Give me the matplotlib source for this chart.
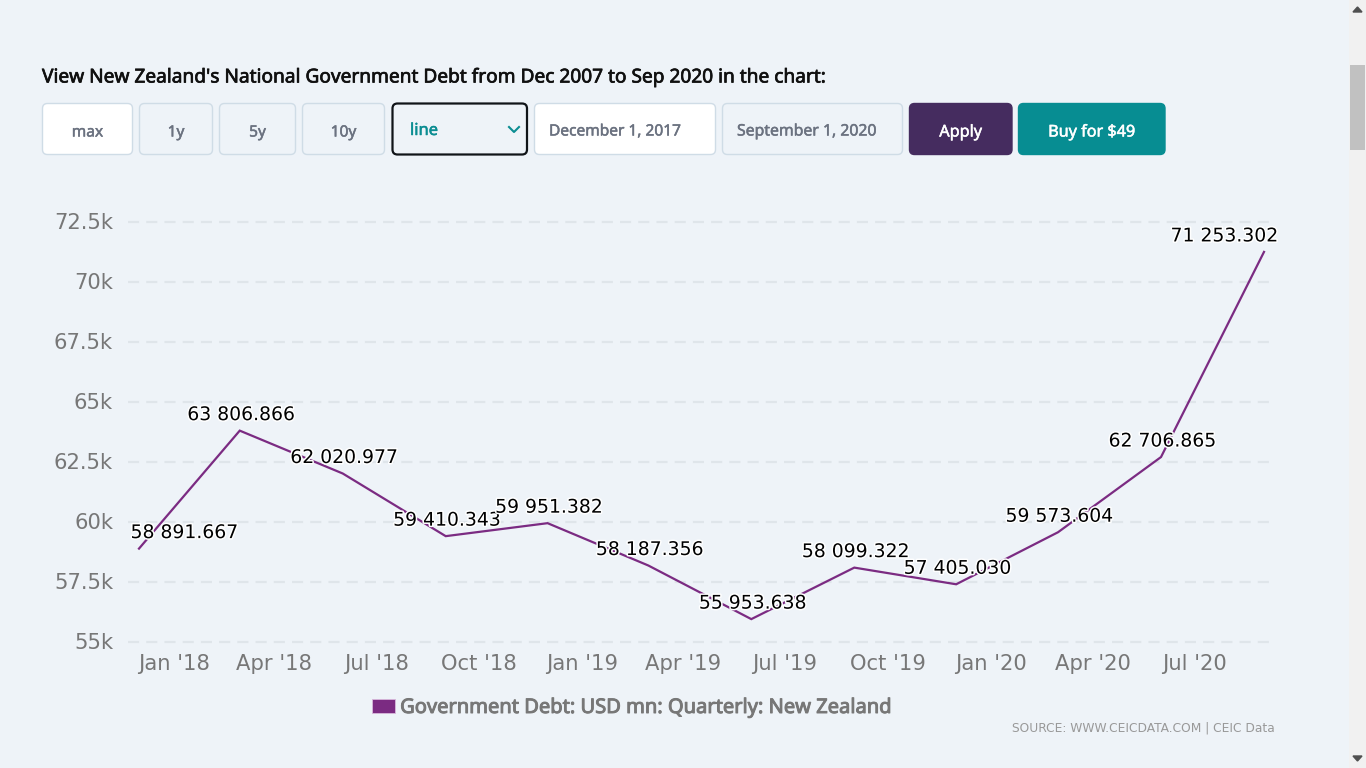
import matplotlib
matplotlib.use("Agg")
import matplotlib.pyplot as plt
import matplotlib.dates as mdates
import matplotlib.patheffects as pe
from matplotlib.patches import FancyBboxPatch, Rectangle, Patch
from matplotlib.transforms import Affine2D
from datetime import date

W, H = 1366, 768
BG = "#eef3f8"

dates = [date(2017, 12, 1), date(2018, 3, 1), date(2018, 6, 1), date(2018, 9, 1),
         date(2018, 12, 1), date(2019, 3, 1), date(2019, 6, 1), date(2019, 9, 1),
         date(2019, 12, 1), date(2020, 3, 1), date(2020, 6, 1), date(2020, 9, 1)]
values = [58891.667, 63806.866, 62020.977, 59410.343, 59951.382, 58187.356,
          55953.638, 58099.322, 57405.030, 59573.604, 62706.865, 71253.302]
value_labels = ["58 891.667", "63 806.866", "62 020.977", "59 410.343", "59 951.382", "58 187.356",
                "55 953.638", "58 099.322", "57 405.030", "59 573.604", "62 706.865", "71 253.302"]
label_shift = [45, 1, 1, 1, 1, 1, 1, 1, 1, 1, 1, -40]
y_ticks = [55000, 57500, 60000, 62500, 65000, 67500, 70000, 72500]
y_labels = ["55k", "57.5k", "60k", "62.5k", "65k", "67.5k", "70k", "72.5k"]
x_ticks = [date(2018, 1, 1), date(2018, 4, 1), date(2018, 7, 1), date(2018, 10, 1),
           date(2019, 1, 1), date(2019, 4, 1), date(2019, 7, 1), date(2019, 10, 1),
           date(2020, 1, 1), date(2020, 4, 1), date(2020, 7, 1)]
x_labels = ["Jan '18", "Apr '18", "Jul '18", "Oct '18", "Jan '19", "Apr '19",
            "Jul '19", "Oct '19", "Jan '20", "Apr '20", "Jul '20"]
series_name = "Government Debt: USD mn: Quarterly: New Zealand"
heading = "View New Zealand's National Government Debt from Dec 2007 to Sep 2020 in the chart:"
source = "SOURCE: WWW.CEICDATA.COM | CEIC Data"

fig = plt.figure(figsize=(W / 100, H / 100), dpi=100, facecolor=BG)

# page layer in pixel coordinates
ui = fig.add_axes([0, 0, 1, 1], zorder=0)
ui.set_xlim(0, W)
ui.set_ylim(H, 0)
ui.axis("off")

UI_FONT = "Noto Sans"


def px(p):
    return p * 0.72


def button(x0, x1, text, fc, ec, tc, lw=1.0, y0=103.5, y1=154.5, tx=None, ha="center",
           ty=131.5, size=15.5):
    r = 5
    ui.add_patch(FancyBboxPatch((x0 + r, y0 + r), x1 - x0 - 2 * r, y1 - y0 - 2 * r,
                                boxstyle=f"round,pad={r},rounding_size={r}",
                                fc=fc, ec=ec, lw=lw, mutation_aspect=1))
    ui.text((x0 + x1) / 2 if tx is None else tx, ty, text, color=tc, fontsize=px(size),
            family=UI_FONT, ha=ha, va="center",
            path_effects=[pe.withStroke(linewidth=0.35, foreground=tc)])


ui.text(42, 77.5, heading, fontsize=px(19.1), family=UI_FONT, color="#101010", ha="left", va="center",
        path_effects=[pe.withStroke(linewidth=0.5, foreground="#101010")])
button(42.5, 132.5, "max", "#ffffff", "#cfdce6", "#6b7280", ty=132.5)
button(139.5, 212.5, "1y", BG, "#cfdce6", "#6b7280", ty=132.5)
button(219.5, 295.5, "5y", BG, "#cfdce6", "#6b7280", ty=132.5)
button(302.5, 384.5, "10y", BG, "#cfdce6", "#6b7280", ty=132.5)
button(392.5, 527, "line", BG, "#101418", "#0b8d92", lw=1.6, tx=410, ha="left", ty=131, size=16.5)
ui.plot([509, 514, 519], [127, 132, 127], color="#0b8d92", lw=1.5)
button(534.5, 715.5, "December 1, 2017", "#ffffff", "#cfdce6", "#6b7280", tx=549, ha="left")
button(722.5, 902.5, "September 1, 2020", BG, "#cfdce6", "#6b7280", tx=737, ha="left", size=15.8)
button(909.5, 1012, "Apply", "#452c5f", "#452c5f", "#ffffff", ty=132.5, size=16.2)
button(1018.5, 1165, "Buy for $49", "#078d92", "#078d92", "#ffffff", ty=132.5, size=16.2)

# scrollbar
ui.add_patch(Rectangle((1349, 0), 17, H, fc="#f1f1f1", ec="none"))
ui.add_patch(Rectangle((1350, 65), 15, 85, fc="#c1c1c1", ec="none"))
ui.fill([1353, 1362, 1357.5], [12, 12, 7], color="#505050")
ui.fill([1353, 1362, 1357.5], [756, 756, 761], color="#505050")

# chart
L, R, T, B = 128, 1274, 222, 642
ax = fig.add_axes([L / W, 1 - B / H, (R - L) / W, (B - T) / H], zorder=1)
ax.patch.set_alpha(0)
x0_num = mdates.date2num(dates[0])
x1_num = mdates.date2num(dates[-1])
per_px = (x1_num - x0_num) / (1264 - 139)
ax.set_xlim(x0_num - (139 - L) * per_px, x1_num + (R - 1264) * per_px)
ax.set_ylim(55000, 72500)
for s in ax.spines.values():
    s.set_visible(False)

ax.yaxis.grid(True, color="#dfe5ea", lw=1.6, linestyle=(0, (5, 3.2)))
ax.set_axisbelow(True)
for g in ax.get_ygridlines():
    g.set_clip_on(False)

ax.set_yticks(y_ticks, y_labels)
ax.set_xticks([mdates.date2num(d) for d in x_ticks], x_labels)
ax.tick_params(axis="both", length=0, colors="#777777", labelsize=px(21.2))
ax.tick_params(axis="y", pad=px(15))
ax.tick_params(axis="x", pad=px(11.5))
for lab in ax.get_yticklabels():
    lab.set_verticalalignment("center")
    lab.set_transform(lab.get_transform() + Affine2D().translate(0, -1))

ax.plot([mdates.date2num(d) for d in dates], values, color="#7b2b82", lw=1.6, clip_on=False,
        solid_joinstyle="miter")

halo = [pe.withStroke(linewidth=2.2, foreground="#ffffff")]
for d, v, t, dx in zip(dates, values, value_labels, label_shift):
    ax.annotate(t, (mdates.date2num(d), v), xytext=(dx, 16), textcoords="offset pixels",
                ha="center", va="center", fontsize=px(18.8), color="#000000",
                path_effects=halo, annotation_clip=False, zorder=5)

leg = ax.legend(handles=[Patch(fc="#7b2b82", ec="#d9b8dc", lw=0.6, label=series_name)],
                loc="center left", bbox_to_anchor=((372 - L) / (R - L), (B - 708) / (B - T)),
                frameon=False, borderpad=0, borderaxespad=0, handlelength=1.15, handleheight=0.75,
                handletextpad=0.25,
                prop={"family": "Noto Sans", "size": px(20.1)})
for t in leg.get_texts():
    t.set_color("#777777")
    t.set_path_effects([pe.withStroke(linewidth=0.7, foreground="#777777")])

ui.text(1275, 727.5, source, fontsize=px(12.2), color="#999999", ha="right", va="center",
        family="DejaVu Sans")

fig.savefig("out.png", dpi=100, facecolor=BG)
